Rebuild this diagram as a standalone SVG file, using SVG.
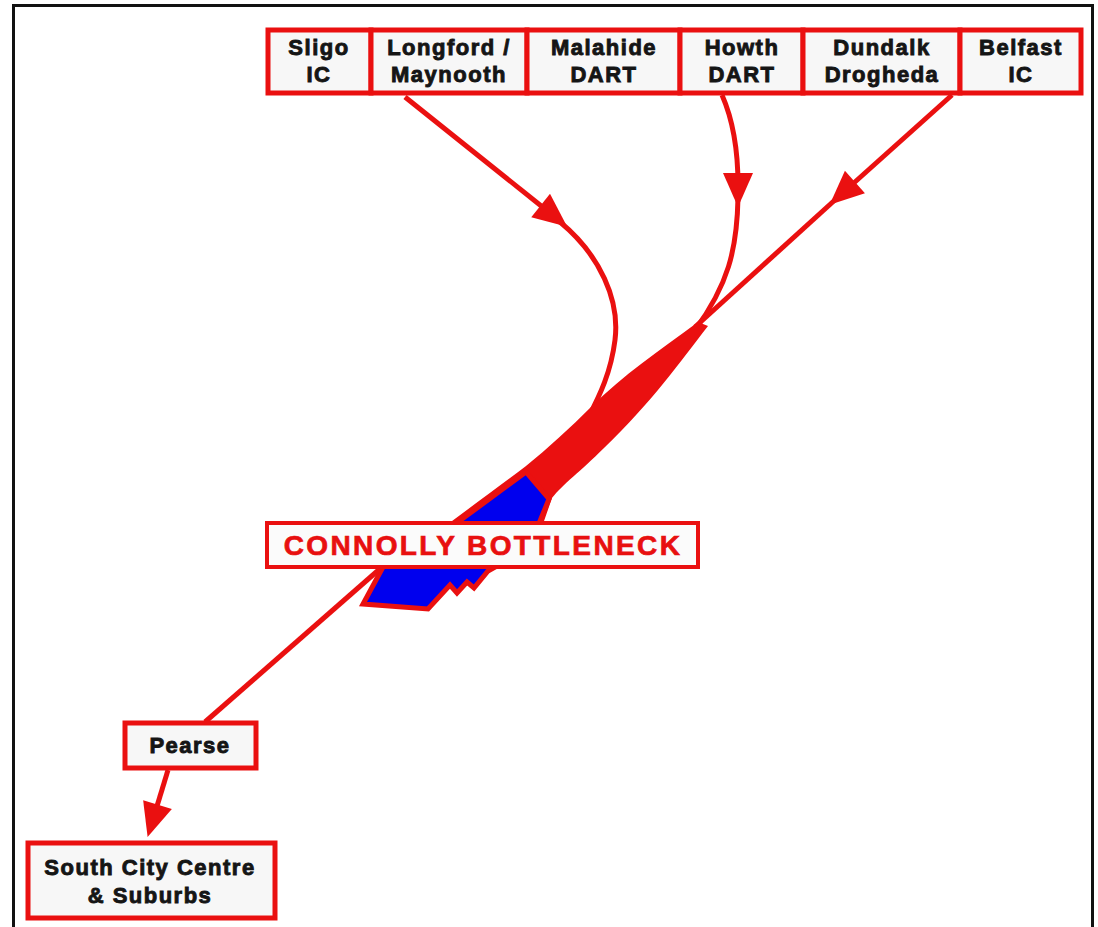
<svg xmlns="http://www.w3.org/2000/svg" width="1098" height="927" viewBox="0 0 1098 927">
  <style>
    .box { fill: #f7f7f7; stroke: #ea1010; stroke-width: 5; }
    .lbl { font-family: "Liberation Sans", Arial, sans-serif; font-weight: bold; font-size: 22px; fill: #151515; stroke: #151515; stroke-width: 0.9; letter-spacing: 1.5px; text-anchor: middle; }
    .big { font-family: "Liberation Sans", Arial, sans-serif; font-weight: bold; font-size: 28px; fill: #e81010; stroke: #e81010; stroke-width: 0.7; letter-spacing: 2.4px; text-anchor: middle; }
    .ln { fill: none; stroke: #ea1010; stroke-width: 5; }
  </style>
  <defs>
    <marker id="ah" markerUnits="userSpaceOnUse" markerWidth="40" markerHeight="34" refX="12" refY="15" orient="auto" overflow="visible">
      <path d="M0,0 L34,15 L0,30 Z" fill="#ea1010"/>
    </marker>
  </defs>
  <rect width="1098" height="927" fill="#ffffff"/>
  <rect x="13.5" y="5.5" width="1079" height="940" fill="none" stroke="#111" stroke-width="3"/>

  <g id="connectors">
    <path class="ln" d="M405,97 L550,213" marker-end="url(#ah)"/>
    <path class="ln" d="M560,222 C600,255 620,300 615,340 C611,372 600,395 588,418"/>
    <path class="ln" d="M722,95 C733,120 738,150 738,185" marker-end="url(#ah)"/>
    <path class="ln" d="M738,198 C737,250 728,285 695,330"/>
    <path class="ln" d="M952,95 L846,190" marker-end="url(#ah)"/>
    <path class="ln" d="M836,199 L695,327"/>
    <path fill="#ea1010" d="M698,322 L708,326 C680,362 652,402 604,448 C580,472 563,484 552,498 L543,524 L448,524 C475,504 502,484 526,466 C548,448 570,428 592,406 C622,376 660,350 698,322 Z"/>
    <path fill="#0000ee" stroke="#ea1010" stroke-width="5" stroke-linejoin="miter" d="M526,472 L549,499 L538,526 L497,566 L488,571 L474,588 L467,582 L457,593 L450,585 L428,609 L363,604 L383,567 L458,522 Z"/>
    <path class="ln" d="M382,567 L205,722"/>
    <path class="ln" d="M168,770 L154,816" marker-end="url(#ah)"/>
  </g>

  <g id="node-sligo">
    <rect class="box" x="268" y="30" width="103" height="63"/>
    <text class="lbl" x="319" y="55">Sligo</text>
    <text class="lbl" x="319" y="82">IC</text>
  </g>
  <g id="node-longford">
    <rect class="box" x="371" y="30" width="156" height="63"/>
    <text class="lbl" x="449" y="55">Longford /</text>
    <text class="lbl" x="449" y="82">Maynooth</text>
  </g>
  <g id="node-malahide">
    <rect class="box" x="527" y="30" width="153" height="63"/>
    <text class="lbl" x="604" y="55">Malahide</text>
    <text class="lbl" x="604" y="82">DART</text>
  </g>
  <g id="node-howth">
    <rect class="box" x="680" y="30" width="123" height="63"/>
    <text class="lbl" x="742" y="55">Howth</text>
    <text class="lbl" x="742" y="82">DART</text>
  </g>
  <g id="node-dundalk">
    <rect class="box" x="803" y="30" width="157" height="63"/>
    <text class="lbl" x="882" y="55">Dundalk</text>
    <text class="lbl" x="882" y="82">Drogheda</text>
  </g>
  <g id="node-belfast">
    <rect class="box" x="960" y="30" width="121" height="63"/>
    <text class="lbl" x="1021" y="55">Belfast</text>
    <text class="lbl" x="1021" y="82">IC</text>
  </g>

  <g id="node-connolly">
    <rect x="267" y="523" width="431" height="44" fill="#fbfbfb" stroke="#ea1010" stroke-width="4"/>
    <text class="big" x="483" y="555">CONNOLLY BOTTLENECK</text>
  </g>

  <g id="node-pearse">
    <rect class="box" x="125" y="723" width="131" height="45"/>
    <text class="lbl" x="190" y="753">Pearse</text>
  </g>

  <g id="node-south">
    <rect class="box" x="28" y="843" width="247" height="75" stroke-width="6"/>
    <text class="lbl" x="150" y="875">South City Centre</text>
    <text class="lbl" x="150" y="903">&amp; Suburbs</text>
  </g>
</svg>
